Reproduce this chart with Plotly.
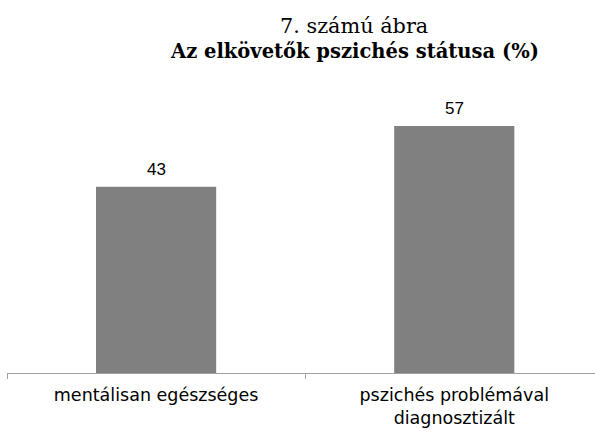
import plotly.graph_objects as go

categories = ["mentálisan egészséges", "pszichés problémával<br>diagnosztizált"]
values = [43, 57]
value_labels = ["43", "57"]
title_line1 = "7. számú ábra"
title_line2 = "Az elkövetők pszichés státusa (%)"

W, H = 595, 432
ML, MR, MT, MB = 7, 0, 113, 59
plot_w = W - ML - MR
plot_h = H - MT - MB

fig = go.Figure()
fig.add_trace(go.Bar(
    x=categories, y=values,
    marker=dict(color="#808080", line=dict(width=0)),
    hoverinfo="skip",
))

for cat, val, lab in zip(categories, values, value_labels):
    fig.add_annotation(
        x=cat, y=val, xref="x", yref="y",
        text=lab, showarrow=False,
        yanchor="bottom", yshift=6,
        font=dict(family="Liberation Sans, Arial, sans-serif", size=17, color="#000000"),
    )

title_x = (354 - ML) / plot_w
fig.add_annotation(
    x=title_x, y=(H - MB - 26) / plot_h, xref="paper", yref="paper",
    text=title_line1, showarrow=False, xanchor="center", yanchor="middle",
    font=dict(family="DejaVu Serif, serif", size=20.8, color="#000000"),
)
fig.add_annotation(
    x=title_x, y=(H - MB - 52) / plot_h, xref="paper", yref="paper",
    text=f"<b>{title_line2}</b>", showarrow=False, xanchor="center", yanchor="middle",
    font=dict(family="DejaVu Serif, serif", size=19.5, color="#000000"),
)

fig.update_layout(
    width=W, height=H,
    margin=dict(l=ML, r=MR, t=MT, b=MB),
    paper_bgcolor="white", plot_bgcolor="white",
    showlegend=False,
    bargap=0.597,
    xaxis=dict(
        type="category",
        range=[-0.5, 1.472],
        showline=True, linecolor="#a0a0a0", linewidth=1,
        ticks="outside", ticklen=5, tickcolor="#a0a0a0", tickwidth=1,
        tickson="boundaries",
        ticklabelstandoff=6,
        showgrid=False, zeroline=False,
        tickfont=dict(family="DejaVu Sans, sans-serif", size=17.5, color="#000000"),
    ),
    yaxis=dict(range=[0, 60], visible=False, showgrid=False),
)

fig.write_html(
    "out.html",
    config={"displayModeBar": False},
    post_script="document.body.style.margin='0';document.body.style.padding='0';",
)
